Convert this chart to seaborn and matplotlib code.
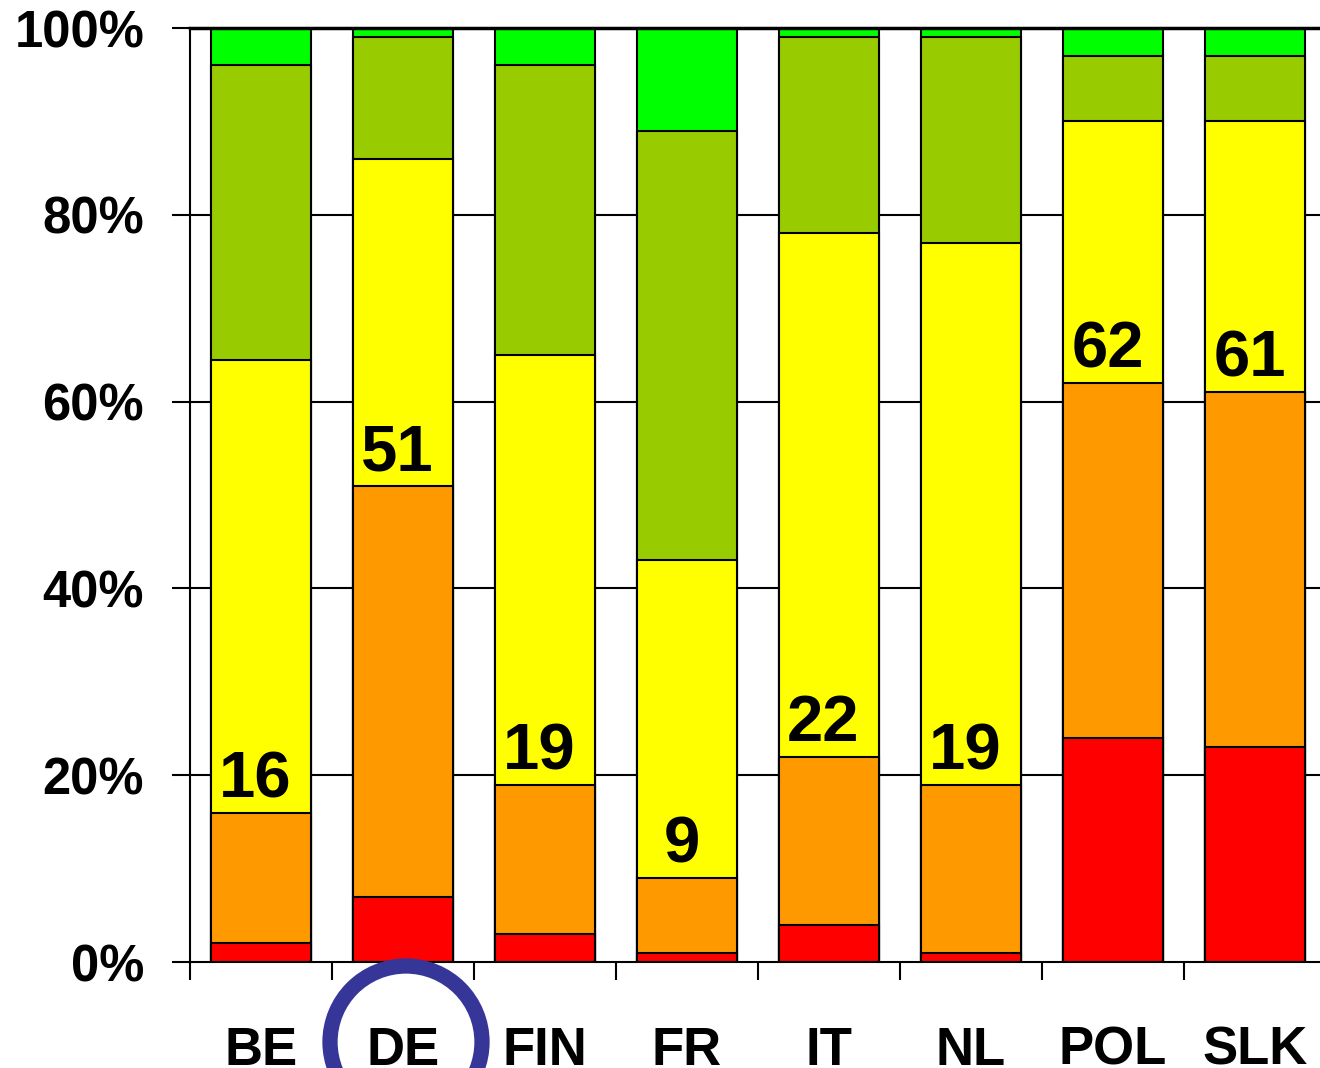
import numpy as np
import pandas as pd
import matplotlib
matplotlib.use("Agg")
import matplotlib.pyplot as plt
from matplotlib.patches import Circle
from matplotlib.ticker import FixedLocator
import seaborn as sns

# Country shares per response level (percent of respondents, each bar sums to 100)
countries = ["BE", "DE", "FIN", "FR", "IT", "NL", "POL", "SLK"]
very_low = [2, 7, 3, 1, 4, 1, 24, 23]
low = [14, 44, 16, 8, 18, 18, 38, 38]
medium = [48.5, 35, 46, 34, 56, 58, 28, 29]
high = [31.5, 13, 31, 46, 21, 22, 7, 7]
very_high = [4, 1, 4, 11, 1, 1, 3, 3]

# Labelled value: combined share of the two lowest levels
low_total = [16, 51, 19, 9, 22, 19, 62, 61]

y_ticks = [0, 20, 40, 60, 80, 100]
y_tick_labels = ["0%", "20%", "40%", "60%", "80%", "100%"]

layers = [very_low, low, medium, high, very_high]
colors = ["#FF0000", "#FF9900", "#FFFF00", "#99CC00", "#00FF00"]

df = pd.DataFrame({"country": countries})
cum = np.cumsum(np.array(layers, dtype=float), axis=0)

sns.set_theme(style="white")
plt.rcParams["font.family"] = ["Liberation Sans", "DejaVu Sans"]
plt.rcParams["font.weight"] = "bold"
plt.rcParams["text.color"] = "black"
plt.rcParams["xtick.color"] = "black"
plt.rcParams["ytick.color"] = "black"

fig = plt.figure(figsize=(13.2, 10.68), dpi=100)
ax = fig.add_axes([190 / 1320, 106 / 1068, 1136 / 1320, 934 / 1068])

# Horizontal gridlines behind the bars
for v in y_ticks[1:-1]:
    ax.axhline(v, color="black", lw=1.5, zorder=0)

# Stacked bars: draw cumulative tops from the highest layer down
for i in range(len(layers) - 1, -1, -1):
    df["top"] = cum[i]
    sns.barplot(data=df, x="country", y="top", color=colors[i],
                saturation=1, width=0.71, edgecolor="black",
                linewidth=1.5, ax=ax, zorder=2)

for i, v in enumerate(low_total):
    ax.annotate(str(v), xy=(i, v), xytext=(-4, 11), textcoords="offset points",
                ha="center", va="baseline", fontsize=47, fontweight="bold",
                color="black", zorder=5)

ax.set_xlim(-0.5, 7.5)
ax.set_ylim(0, 100)
ax.set_xlabel("")
ax.set_ylabel("")

ax.set_yticks(y_ticks)
ax.set_yticklabels(y_tick_labels, fontsize=36.5, fontweight="bold", color="black")
ax.tick_params(axis="y", direction="out", length=13, width=1.5,
               color="black", labelcolor="black", pad=20, left=True)

ax.set_xticks(range(len(countries)))
ax.set_xticklabels(countries, fontsize=38, fontweight="bold", color="black")
ax.xaxis.set_minor_locator(FixedLocator(np.arange(-0.5, 8.0, 1.0)))
ax.tick_params(axis="x", which="major", length=0, pad=46, labelcolor="black")
ax.tick_params(axis="x", which="minor", direction="out", length=13,
               width=1.5, color="black", bottom=True)

for side in ["left", "bottom"]:
    ax.spines[side].set_color("black")
    ax.spines[side].set_linewidth(1.5)
ax.spines["top"].set_color("black")
ax.spines["top"].set_linewidth(2.5)
ax.spines["right"].set_visible(False)

# Highlight ring around the DE label
ring = Circle((406 / 100, (1068 - 1042) / 100), 76 / 100,
              transform=fig.dpi_scale_trans, fill=False, edgecolor="#363699",
              linewidth=11, zorder=10)
fig.patches.append(ring)

fig.savefig("out.png", dpi=100)
